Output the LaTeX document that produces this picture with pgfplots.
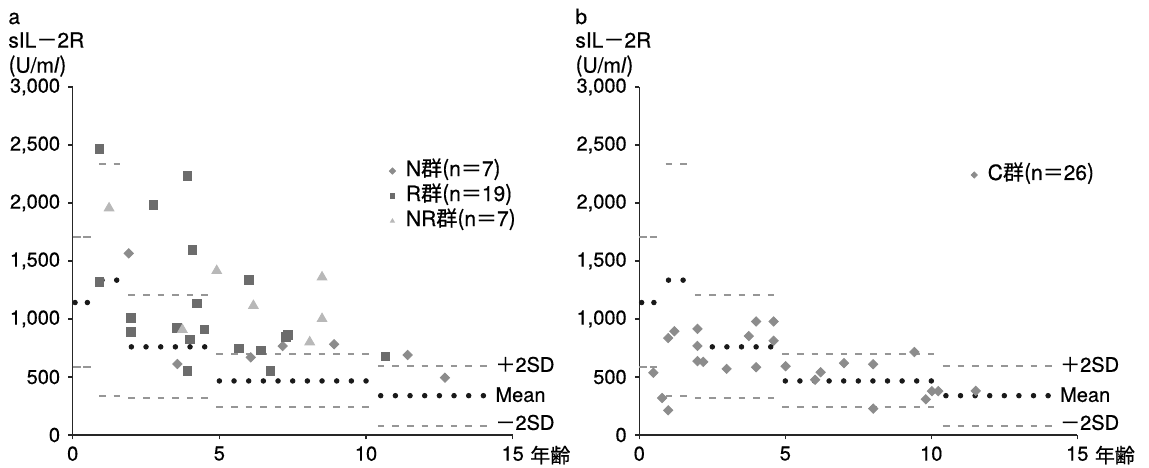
\documentclass[border=0pt]{standalone}
\usepackage{pgfplots}
\pgfplotsset{compat=1.18}
\usepackage{fontspec}
\setmainfont{TeX Gyre Heros}[FakeBold=0.5]
\newfontfamily\jp{Noto Sans CJK JP}[FakeBold=0.5]

\definecolor{cN}{HTML}{8C8C8C}
\definecolor{cR}{HTML}{6C6C6C}
\definecolor{cNR}{HTML}{B8B8B8}
\definecolor{cSD}{HTML}{969696}
\newcommand\f{\fontsize{10}{12}\selectfont}
\newcommand\g{\fontsize{10.5}{12.6}\selectfont}

\pgfplotsset{
  panel/.style={
    width=220pt, height=174pt, scale only axis,
    xmin=0, xmax=15, ymin=0, ymax=3000,
    axis lines*=left,
    xtick={0,5,10,15}, ytick={0,500,...,3000},
    tick align=outside, major tick length=2.2pt,
    tick style={black!85, line width=0.6pt},
    axis line style={black!85, line width=0.7pt},
    /pgf/number format/1000 sep={,},
    /pgf/number format/assume math mode=true,
    ticklabel style={font=\f},
    yticklabel style={xshift=-0.6pt},
    clip=false,
    legend cell align=left,
    legend style={draw=none, fill=none, inner sep=0pt, anchor=north west,
      font=\g, row sep=1.5pt,
      nodes={inner sep=1pt, text height=7pt, text depth=2pt},
      /tikz/every odd column/.append style={column sep=4.2pt}},
    legend image code/.code={\draw[##1, mark size=1.1pt] plot coordinates {(0pt,0pt)};},
  },
  sdline/.style={cSD, line width=1.1pt, dash pattern=on 3.3pt off 4pt, forget plot},
  sdshort/.style={cSD, line width=1.1pt, dash pattern=on 4pt off 1.3pt, forget plot},
  meandots/.style={only marks, mark=*, mark size=1.15pt, black!90, forget plot},
  diam/.style={only marks, mark=square*, mark size=1.65pt, mark options={rotate=45}, cN},
}

% reference band: +2SD, mean, -2SD by age
\newcommand\refcurves{%
  \addplot[sdshort] coordinates {(0,1709) (0.62,1709)};
  \addplot[sdline] coordinates {(0.9,2335) (1.62,2335)};
  \addplot[sdline] coordinates {(1.9,1205) (4.6,1205)};
  \addplot[sdline] coordinates {(4.9,696) (10.1,696)};
  \addplot[sdline] coordinates {(10.4,598) (14.15,598)};
  \addplot[sdshort] coordinates {(0,589) (0.62,589)};
  \addplot[sdline] coordinates {(0.9,339) (1.62,339)};
  \addplot[sdline] coordinates {(1.9,322) (4.6,322)};
  \addplot[sdline] coordinates {(4.9,239) (10.1,239)};
  \addplot[sdline] coordinates {(10.4,80) (14.15,80)};
  \addplot[meandots] coordinates {(0.08,1142) (0.5,1142) (1.0,1335) (1.5,1335)
    (2,760) (2.5,760) (3,760) (3.5,760) (4,760) (4.5,760)
    (5,466) (5.5,466) (6,466) (6.5,466) (7,466) (7.5,466) (8,466) (8.5,466) (9,466) (9.5,466) (10,466)
    (10.5,339) (11,339) (11.5,339) (12,339) (12.5,339) (13,339) (13.5,339) (14,339)};
  \node[anchor=base west, inner sep=0pt, font=\f] at (axis cs:14.4,545) {{\jp ＋}2SD};
  \node[anchor=base west, inner sep=0pt, font=\f] at (axis cs:14.4,286) {Mean};
  \node[anchor=base west, inner sep=0pt, font=\f] at (axis cs:14.4,45) {{\jp －}2SD};
  \node[anchor=base west, inner sep=0pt, font=\f] at ([xshift=8.6pt,yshift=-13.85pt]axis cs:15,0) {\jp 年齢};
}

\begin{document}
\begin{tikzpicture}
\begin{axis}[panel, at={(0pt,0pt)}, anchor=origin,
  legend style={at={(axis cs:10.78,2374)}}]
  \refcurves
  \addplot[diam] coordinates {(1.91,1566) (3.57,612) (6.07,670) (7.16,767) (8.91,782) (11.42,690) (12.69,494)};
  \addlegendentry{N{\jp 群(}n{\jp ＝}7{\jp )}}
  \addplot[only marks, mark=square*, mark size=2.2pt, cR] coordinates {(0.91,2466) (0.91,1322) (1.99,1011) (1.99,891) (2.75,1983) (3.55,925) (3.91,2233) (3.91,554) (4.0,825) (4.08,1595) (4.23,1135) (4.49,911) (5.66,747) (6.0,1336) (6.41,730) (6.74,554) (7.27,847) (7.34,862) (10.66,678)};
  \addlegendentry{R{\jp 群(}n{\jp ＝}19{\jp )}}
  \addplot[only marks, mark=triangle*, mark size=2.8pt, cNR] coordinates {(1.24,1956) (3.74,907) (4.91,1416) (6.16,1115) (8.08,801) (8.5,1361) (8.5,1002)};
  \addlegendentry{NR{\jp 群(}n{\jp ＝}7{\jp )}}
\end{axis}
\begin{axis}[panel, at={(283.3pt,0pt)}, anchor=origin, width=219pt,
  legend style={at={(axis cs:11.35,2340)}}]
  \refcurves
  \addplot[diam] coordinates {(0.48,537) (0.78,319) (0.99,213) (0.99,836) (1.2,895) (1.99,915) (1.99,768) (1.99,637) (2.19,631) (2.99,570) (3.75,853) (4.0,979) (4.0,584) (4.6,979) (4.6,812) (5.01,593) (6.02,476) (6.21,541) (7.01,619) (8.01,610) (8.01,227) (9.42,715) (9.81,308) (10.02,378) (10.24,378) (11.52,380)};
  \addlegendentry{C{\jp 群(}n{\jp ＝}26{\jp )}}
\end{axis}
\node[anchor=base west, inner sep=0pt, font=\g] at (-32.35pt,205.5pt) {a};
\node[anchor=base west, inner sep=0pt, font=\g] at (-32.35pt,193.7pt) {sIL{\jp －}2R};
\node[anchor=base west, inner sep=0pt, font=\g] at (-32.35pt,181.2pt) {{\jp (}U/m\textit{l}{\jp )}};
\node[anchor=base west, inner sep=0pt, font=\g] at (251.15pt,205.5pt) {b};
\node[anchor=base west, inner sep=0pt, font=\g] at (251.15pt,193.7pt) {sIL{\jp －}2R};
\node[anchor=base west, inner sep=0pt, font=\g] at (251.15pt,181.2pt) {{\jp (}U/m\textit{l}{\jp )}};
\pgfresetboundingbox
\path (-36.35pt,-16pt) rectangle (538.15pt,217.5pt);
\end{tikzpicture}
\end{document}
